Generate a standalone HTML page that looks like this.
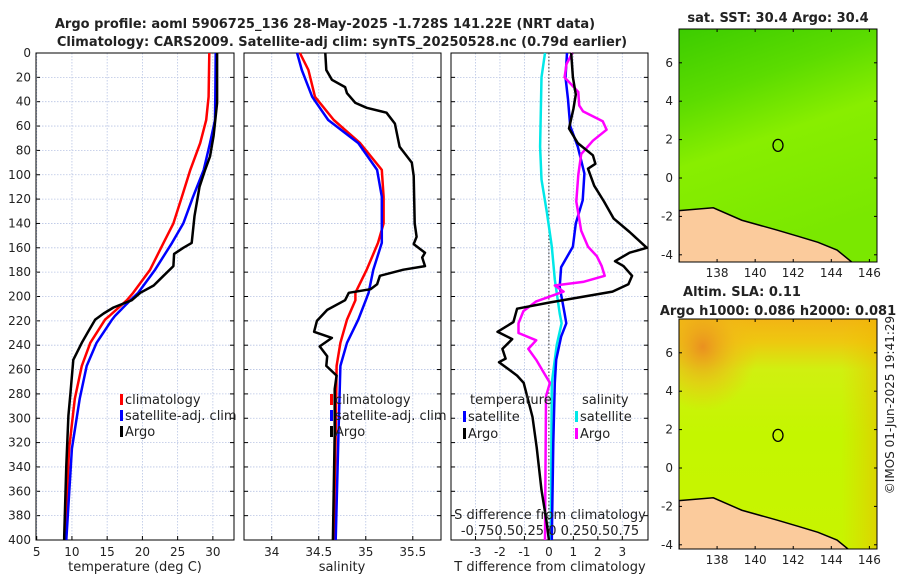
<!DOCTYPE html>
<html><head><meta charset="utf-8"><style>
body{margin:0;background:#fff;width:900px;height:580px;overflow:hidden}
svg text{font-family:"DejaVu Sans","Liberation Sans",sans-serif;fill:#222}
</style></head><body>
<svg id="c" width="900" height="580" xmlns="http://www.w3.org/2000/svg">
<defs>
<linearGradient id="sst" x1="0" y1="0" x2="0.3" y2="1">
<stop offset="0" stop-color="#3ccc00"/><stop offset="0.3" stop-color="#5cdc00"/><stop offset="0.55" stop-color="#88ee00"/><stop offset="1" stop-color="#7ae800"/></linearGradient>
<radialGradient id="sla1" cx="0.12" cy="0.12" r="0.28"><stop offset="0" stop-color="#ea9020"/><stop offset="0.6" stop-color="#f0b818" stop-opacity="0.5"/><stop offset="1" stop-color="#f0c010" stop-opacity="0"/></radialGradient>
<linearGradient id="sla0" x1="0" y1="0" x2="0" y2="1"><stop offset="0" stop-color="#f2b414"/><stop offset="0.1" stop-color="#eec810"/><stop offset="0.22" stop-color="#d0f010"/><stop offset="0.5" stop-color="#c4f600"/><stop offset="1" stop-color="#c8f400"/></linearGradient>
<linearGradient id="sla2" x1="0" y1="0" x2="1" y2="0"><stop offset="0.82" stop-color="#f0c000" stop-opacity="0"/><stop offset="1" stop-color="#f0b400" stop-opacity="0.5"/></linearGradient>
</defs>
<g id="plots"></g>
<text x="325" y="28" text-anchor="middle" font-size="13" font-weight="bold">Argo profile: aoml 5906725_136 28-May-2025 -1.728S 141.22E (NRT data)</text>
<text x="342" y="46" text-anchor="middle" font-size="13" font-weight="bold">Climatology: CARS2009. Satellite-adj clim: synTS_20250528.nc (0.79d earlier)</text>
<text x="135" y="571" text-anchor="middle" font-size="13">temperature (deg C)</text>
<text x="342" y="571" text-anchor="middle" font-size="13">salinity</text>
<text x="550" y="571" text-anchor="middle" font-size="13">T difference from climatology</text>
<text x="550" y="519" text-anchor="middle" font-size="13">S difference from climatology</text>
<text x="550" y="535" text-anchor="middle" font-size="13">-0.750.50.25  0  0.250.50.75</text>
<text x="778" y="22" text-anchor="middle" font-size="13" font-weight="bold">sat. SST: 30.4 Argo: 30.4</text>
<text x="742" y="296" text-anchor="middle" font-size="13" font-weight="bold">Altim. SLA: 0.11</text>
<text x="778" y="315" text-anchor="middle" font-size="13" font-weight="bold">Argo h1000: 0.086 h2000: 0.081</text>
<text transform="translate(894,405) rotate(-90)" text-anchor="middle" font-size="12">©IMOS 01-Jun-2025 19:41:29</text>
</svg>
<script>
const depthTicks=[0,20,40,60,80,100,120,140,160,180,200,220,240,260,280,300,320,340,360,380,400];
const tempTicks=[5,10,15,20,25,30];
const salTicks=[34,34.5,35,35.5];
const tdiffTicks=[-3,-2,-1,0,1,2,3];
const climTDepth=[0,36,55,74,96,118,140,156,178,197,203,216,219,238,257,284,325,400];
const climTemp=[29.5,29.4,29.05,28.2,26.8,25.6,24.4,23.0,21.1,18.7,17.8,15.3,14.7,12.6,11.4,10.4,9.6,9.0];
const satTemp=[30.4,30.35,30.3,29.6,28.7,27.2,25.8,24.2,21.8,19.4,18.3,16.1,15.7,13.5,12.1,11.1,10.0,9.2];
const argoTDepth=[0,41,68,85,96,110,134,156,160,165,175,183,191,197,203,209,214,219,229,238,252,279,298,339,397,400];
const argoTemp=[30.6,30.6,30.1,29.6,28.9,28.1,27.4,27.0,25.8,24.5,24.4,23.0,21.6,19.7,18.5,15.9,14.5,13.3,12.3,11.4,10.2,9.8,9.5,9.2,8.9,8.9];
const climSDepth=[0,14,36,55,74,96,118,140,156,178,197,203,219,238,257,312,400];
const climSal=[34.30,34.39,34.46,34.66,34.94,35.17,35.19,35.19,35.13,35.01,34.89,34.89,34.80,34.73,34.69,34.68,34.66];
const satSal=[34.27,34.32,34.43,34.60,34.92,35.12,35.17,35.17,35.17,35.08,35.03,35.0,34.92,34.80,34.73,34.71,34.68];
const argoSDepth=[0,14,22,28,33,41,45,49,58,77,90,101,140,151,157,164,168,175,178,183,190,194,197,203,211,220,229,234,241,249,257,265,276,312,400];
const argoSal=[34.57,34.58,34.64,34.78,34.80,34.89,35.01,35.22,35.31,35.36,35.49,35.51,35.52,35.54,35.51,35.63,35.6,35.63,35.40,35.15,35.12,35.05,34.82,34.78,34.59,34.48,34.45,34.64,34.51,34.59,34.58,34.69,34.67,34.67,34.65];
const tdArgoDepth=[0,20,34,46,62,74,84,91,95,109,122,136,147,160,164,171,175,183,190,196,205,210,221,229,235,243,251,254,265,271,299,324,359,384,400];
const tdArgo=[0.91,0.98,1.1,1.0,0.82,1.18,1.8,1.9,1.6,1.85,2.25,2.65,3.3,4.0,3.3,2.7,3.05,3.4,3.25,2.6,0,-1.3,-1.45,-2.1,-1.5,-1.9,-1.77,-2.04,-1.3,-1.03,-0.67,-0.5,-0.3,-0.1,0];
const tdSatDepth=[0,20,38,60,77,99,121,140,159,176,192,214,222,233,252,271,320,400];
const tdSat=[0.74,0.68,0.78,0.87,1.18,1.45,1.38,1.1,0.98,0.5,0.44,0.64,0.71,0.5,0.3,0.24,0.18,0.12];
const sdSatDepth=[0,20,77,104,131,159,186,214,222,240,271,400];
const sdSat=[-0.04,-0.075,-0.09,-0.075,-0.02,0.03,0.06,0.11,0.13,0.08,0.03,0.02];
const sdArgoDepth=[0,9,20,32,43,48,56,63,72,83,100,122,146,159,167,175,183,188,191,196,204,212,222,230,236,243,252,260,271,282,400];
const sdArgo=[0.24,0.18,0.16,0.3,0.31,0.35,0.55,0.59,0.45,0.33,0.3,0.28,0.33,0.4,0.49,0.54,0.57,0.35,0.06,0.15,-0.13,-0.26,-0.31,-0.31,-0.13,-0.21,-0.13,-0.07,0.01,-0.03,-0.04];
const lonTicks=[138,140,142,144,146];
const latTicks=[-4,-2,0,2,4,6];
const argoLon=141.2, argoLat=1.7;

const NS='http://www.w3.org/2000/svg';
const root=document.getElementById('plots');
function el(tag,attrs,parent){const e=document.createElementNS(NS,tag);for(const k in attrs)e.setAttribute(k,attrs[k]);(parent||root).appendChild(e);return e;}
const Y0=53,Y1=540;
const yD=d=>Y0+(d/400)*(Y1-Y0);
const panels=[
 {x0:36,x1:234,lo:4.9,hi:33.0,ticks:tempTicks,name:'temperature-panel'},
 {x0:244,x1:441,lo:33.705,hi:35.8,ticks:salTicks,name:'salinity-panel'},
 {x0:451,x1:648,lo:-4.0,hi:4.05,ticks:tdiffTicks,name:'difference-panel'}];
function sx(p,v){return p.x0+(v-p.lo)/(p.hi-p.lo)*(p.x1-p.x0);}
panels.forEach((p,i)=>{
 const g=el('g',{});
 
 
 depthTicks.forEach(d=>{
  const l=el('line',{x1:p.x0,x2:p.x1,y1:yD(d),y2:yD(d),stroke:'#b8c4e4','stroke-width':0.8,'stroke-dasharray':'1.5,1.5'},g);
  
  
  el('line',{x1:p.x0,x2:p.x0+4,y1:yD(d),y2:yD(d),stroke:'#000'},g);
  el('line',{x1:p.x1,x2:p.x1-4,y1:yD(d),y2:yD(d),stroke:'#000'},g);
 });
 p.ticks.forEach(t=>{
  const x=sx(p,t);
  el('line',{x1:x,x2:x,y1:Y0,y2:Y1,stroke:'#b8c4e4','stroke-width':0.8,'stroke-dasharray':'1.5,1.5'},g);
  el('line',{x1:x,x2:x,y1:Y1,y2:Y1-4,stroke:'#000'},g);
  const tx=el('text',{x:x,y:556,'text-anchor':'middle','font-size':12},g);
  tx.textContent=String(t);
  
  
 });
 el('rect',{x:p.x0,y:Y0,width:p.x1-p.x0,height:Y1-Y0,fill:'none',stroke:'#000','stroke-width':1},g);
});
depthTicks.forEach(d=>{
 const t=el('text',{x:31,y:yD(d)+4,'text-anchor':'end','font-size':12});
 t.textContent=d;
 
 
});
el('line',{x1:sx(panels[2],0),x2:sx(panels[2],0),y1:Y0,y2:Y1,stroke:'#333','stroke-dasharray':'1.5,2','stroke-width':1});
function line(p,vals,deps,color,name,scale){
 const pts=vals.map((v,i)=>sx(p,v*(scale||1)).toFixed(1)+','+yD(deps[i]).toFixed(1)).join(' ');
 const pl=el('polyline',{points:pts,fill:'none',stroke:color,'stroke-width':2.5,'stroke-linejoin':'round'});
 
 
}
const P=panels;
line(P[0],climTemp,climTDepth,'#ff0000','climatology-temp-line');
line(P[0],satTemp,climTDepth,'#0000ff','satellite-temp-line');
line(P[0],argoTemp,argoTDepth,'#000','argo-temp-line');
line(P[1],climSal,climSDepth,'#ff0000','climatology-sal-line');
line(P[1],satSal,climSDepth,'#0000ff','satellite-sal-line');
line(P[1],argoSal,argoSDepth,'#000','argo-sal-line');
line(P[2],sdSat,sdSatDepth,'#00e8e8','satellite-sdiff-line',4);
line(P[2],tdSat,tdSatDepth,'#0000ff','satellite-tdiff-line');
line(P[2],sdArgo,sdArgoDepth,'#ff00ff','argo-sdiff-line',4);
line(P[2],tdArgo,tdArgoDepth,'#000','argo-tdiff-line');
function legend(x,y,color,label,name){
 const g=el('g',{});
 
 
 el('rect',{x:x,y:y-10,width:3,height:11,fill:color},g);
 const t=el('text',{x:x+5,y:y,'font-size':13},g);t.textContent=label;
}
legend(120,404,'#ff0000','climatology','legend-climatology');
legend(120,420,'#0000ff','satellite-adj. clim','legend-satellite-adj');
legend(120,436,'#000','Argo','legend-argo');
legend(330,404,'#ff0000','climatology','legend-sal-climatology');
legend(330,420,'#0000ff','satellite-adj. clim','legend-sal-satellite-adj');
legend(330,436,'#000','Argo','legend-sal-argo');
const th=el('text',{x:470,y:404,'font-size':13});th.textContent='temperature';


const sh=el('text',{x:582,y:404,'font-size':13});sh.textContent='salinity';


legend(463,421,'#0000ff','satellite','legend-t-satellite');
legend(463,438,'#000','Argo','legend-t-argo');
legend(575,421,'#00e8e8','satellite','legend-s-satellite');
legend(575,438,'#ff00ff','Argo','legend-s-argo');

// maps
const MX0=679,MX1=877,LON0=136.0,LON1=146.4,PXD=19.2;
const lx=l=>MX0+(l-LON0)/(LON1-LON0)*(MX1-MX0);
function map(top,bottom,y0lat,fills,name){
 const g=el('g',{});
 
 
 const ly=la=>y0lat-la*PXD;
 const cid='clip'+name;
 const cp=el('clipPath',{id:cid},g);el('rect',{x:MX0,y:top,width:MX1-MX0,height:bottom-top},cp);
 const inner=el('g',{'clip-path':'url(#'+cid+')'},g);
 fills.forEach(f=>el('rect',{x:MX0,y:top,width:MX1-MX0,height:bottom-top,fill:f},inner));
 const coast=[[136.0,-1.7],[137.8,-1.55],[139.3,-2.2],[141.1,-2.7],[142.3,-3.05],[143.3,-3.35],[144.3,-3.75],[145.1,-4.4],[145.1,-6],[136,-6]];
 el('polygon',{points:coast.map(c=>lx(c[0])+','+ly(c[1])).join(' '),fill:'#fbcb9c',stroke:'#000','stroke-width':1.5},inner);
 const c=el('ellipse',{cx:lx(argoLon),cy:ly(argoLat),rx:5,ry:6,fill:'none',stroke:'#000','stroke-width':1.3},g);
 
 
 el('rect',{x:MX0,y:top,width:MX1-MX0,height:bottom-top,fill:'none',stroke:'#000'},g);
 latTicks.forEach(la=>{const y=ly(la);
  el('line',{x1:MX0,x2:MX0+3,y1:y,y2:y,stroke:'#000'},g);el('line',{x1:MX1,x2:MX1-3,y1:y,y2:y,stroke:'#000'},g);
  const t=el('text',{x:MX0-6,y:y+4,'text-anchor':'end','font-size':12},g);t.textContent=la;
  
  });
 lonTicks.forEach(lo=>{const x=lx(lo);
  el('line',{x1:x,x2:x,y1:bottom,y2:bottom-3,stroke:'#000'},g);el('line',{x1:x,x2:x,y1:top,y2:top+3,stroke:'#000'},g);
  const t=el('text',{x:x,y:bottom+15,'text-anchor':'middle','font-size':12},g);t.textContent=lo;
  
  });
}
map(29,262,178,['url(#sst)'],'sst-map');
map(319,549,468,['url(#sla0)','url(#sla1)','url(#sla2)'],'sla-map');
</script>
</body></html>
